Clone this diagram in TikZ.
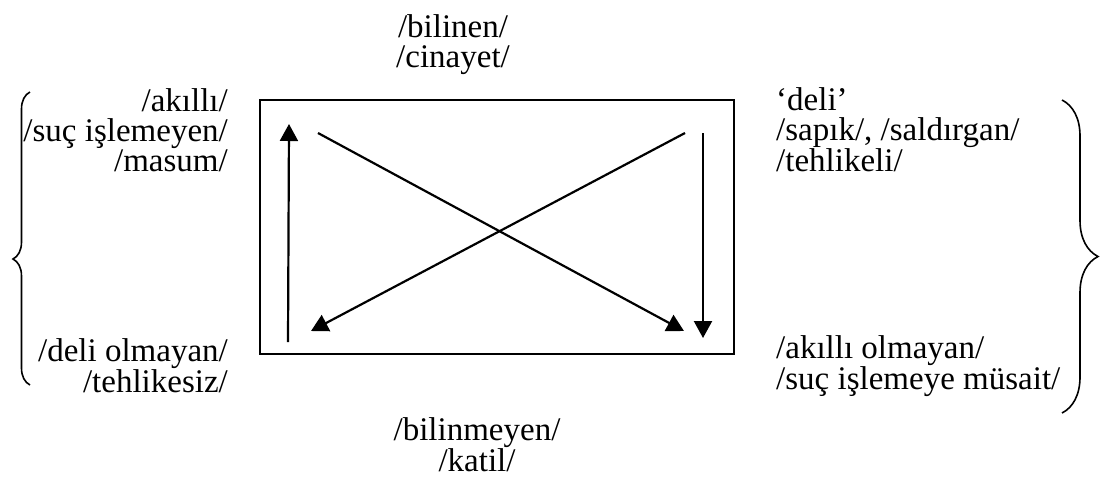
\documentclass[tikz,border=0pt]{standalone}
\usepackage{fontspec}
\setmainfont{Liberation Serif}
\usetikzlibrary{arrows.meta, decorations.pathreplacing}
\tikzset{
  lbl/.style   = {font=\fontsize{33}{30}\selectfont, inner sep=0pt},
  framebox/.style = {draw, line width=1.6pt},
  flow/.style  = {line width=2.2pt, -{Triangle[length=17pt, width=18pt]}},
  curly/.style = {decorate, line width=1.6pt,
                  decoration={brace, amplitude=#1}},
}

\begin{document}
\begin{tikzpicture}[x=1pt, y=-1pt]
  \useasboundingbox (0,0) rectangle (1102,483);
  % square of opposites
  \draw[framebox] (260,100) rectangle (734,354);
  \node[lbl, align=center, anchor=north] (known) at (453,14)
    {/bilinen/\\/cinayet/};
  \node[lbl, align=center, anchor=north] (unknown) at (477,417)
    {/bilinmeyen/\\/katil/};
  \node[lbl, align=right, anchor=north east] (sane) at (228,88)
    {/akıllı/\\/suç işlemeyen/\\/masum/};
  \node[lbl, align=right, anchor=north east] (harmless) at (228,338)
    {/deli olmayan/\\/tehlikesiz/};
  \node[lbl, align=left, anchor=north west] (mad) at (776,87)
    {‘deli’\\/sapık/, /saldırgan/\\/tehlikeli/};
  \node[lbl, align=left, anchor=north west] (prone) at (776,335)
    {/akıllı olmayan/\\/suç işlemeye müsait/};
  % arrow ends
  \coordinate (lb) at (288,342);
  \coordinate (lt) at (289,124);
  \coordinate (dat) at (318,133);
  \coordinate (dab) at (684,331);
  \coordinate (dbt) at (685,133);
  \coordinate (dbb) at (311,331);
  \coordinate (rt) at (703,133);
  \coordinate (rb) at (703,338);
  \draw[flow] (lb) -- (lt);
  \draw[flow] (dat) -- (dab);
  \draw[flow] (dbt) -- (dbb);
  \draw[flow] (rt) -- (rb);
  % braces
  \draw[curly=17, decoration={aspect=0.43}] (30,385) -- (30,92);
  \draw[curly=36] (1062,100) -- (1062,413);
\end{tikzpicture}
\end{document}
